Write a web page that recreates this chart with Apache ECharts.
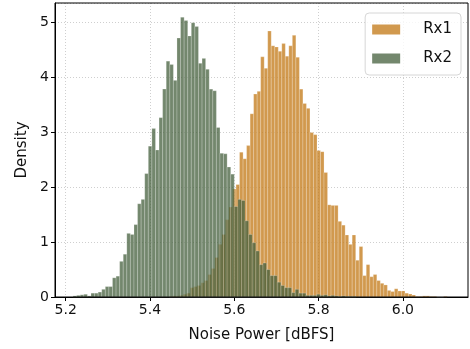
<!DOCTYPE html>
<html>
<head>
<meta charset="utf-8">
<script src="https://cdn.jsdelivr.net/npm/echarts@6/dist/echarts.min.js"></script>
<style>
  html, body { margin: 0; padding: 0; background: #fff; }
  #chart { width: 470px; height: 349px; }
</style>
</head>
<body>
<div id="chart"></div>
<script>
// histogram bins (density)
var rx1Start = 5.4455;
var rx1Width = 0.00835;
var rx1Density = [0.01, 0.02, 0.02, 0.03, 0.05, 0.07, 0.17, 0.19, 0.21, 0.26,
    0.30, 0.41, 0.52, 0.72, 0.96, 1.14, 1.41, 1.64, 1.97, 2.05,
    2.64, 2.52, 2.76, 3.34, 3.70, 3.75, 4.38, 4.17, 4.85, 4.58,
    4.56, 4.48, 4.62, 4.39, 4.58, 4.77, 4.37, 3.79, 3.53, 3.44,
    3.00, 2.96, 2.67, 2.65, 2.27, 1.68, 1.67, 1.67, 1.38, 1.31,
    1.13, 0.96, 1.13, 0.67, 0.92, 0.39, 0.59, 0.37, 0.41, 0.30,
    0.25, 0.22, 0.12, 0.10, 0.15, 0.11, 0.11, 0.07, 0.055, 0.036,
    0.01, 0.01, 0.02, 0.02, 0.01, 0.01, 0, 0, 0.01];

var rx2Start = 5.2175;
var rx2Width = 0.0085;
var rx2Density = [0.02, 0.03, 0.04, 0.05, 0.02, 0.07, 0.07, 0.09, 0.14, 0.19,
    0.19, 0.35, 0.38, 0.65, 0.78, 1.16, 1.14, 1.32, 1.70, 1.78,
    2.25, 2.75, 3.07, 2.68, 3.27, 3.79, 4.30, 4.24, 3.95, 4.72,
    5.10, 5.04, 4.76, 5.00, 4.93, 4.26, 4.35, 4.15, 3.79, 3.76,
    3.09, 2.62, 2.61, 2.37, 2.24, 1.65, 1.78, 1.76, 1.39, 1.14,
    0.99, 0.84, 0.59, 0.62, 0.50, 0.39, 0.39, 0.27, 0.21, 0.17,
    0.17, 0.08, 0.14, 0.07, 0.07, 0.03, 0.03, 0.03, 0.05, 0.03,
    0.04, 0.02, 0.03, 0.02, 0.01, 0.02, 0.01, 0.01, 0.01];

var seriesNames = ['Rx1', 'Rx2'];
var xTicks = [5.2, 5.4, 5.6, 5.8, 6.0];

function toBins(start, width, dens) {
    var out = [];
    for (var i = 0; i < dens.length; i++) {
        var a = start + i * width;
        out.push([a, a + width, dens[i]]);
    }
    return out;
}

function histItem(fill) {
    return function (params, api) {
        var p0 = api.coord([api.value(0), api.value(2)]);
        var p1 = api.coord([api.value(1), 0]);
        return {
            type: 'rect',
            shape: { x: p0[0], y: p0[1], width: p1[0] - p0[0], height: p1[1] - p0[1] },
            style: { fill: fill, stroke: 'rgba(255,255,255,0.35)', lineWidth: 0.6 }
        };
    };
}

var font = 'DejaVu Sans';
var chart = echarts.init(document.getElementById('chart'), null, { renderer: 'canvas' });

var option = {
    animation: false,
    textStyle: { fontFamily: font },
    grid: { left: 55, right: 2, top: 3, bottom: 52, containLabel: false },
    legend: {
        right: 9, top: 13,
        orient: 'vertical',
        data: seriesNames,
        icon: 'rect',
        itemWidth: 28, itemHeight: 10,
        itemGap: 14,
        padding: [9, 9, 9, 7],
        borderColor: '#d6d6d6', borderWidth: 1, borderRadius: 4,
        backgroundColor: 'rgba(255,255,255,0.8)',
        textStyle: { fontSize: 15, color: '#111', fontFamily: font, padding: [0, 0, 0, 18] }
    },
    xAxis: {
        type: 'value',
        min: 5.1746, max: 6.1545,
        name: 'Noise Power [dBFS]', nameLocation: 'middle', nameGap: 31,
        nameTextStyle: { fontSize: 15, color: '#111', fontFamily: font },
        axisLine: { show: true, onZero: false, lineStyle: { color: '#000', width: 1 } },
        axisTick: { show: true, length: 4, customValues: xTicks, lineStyle: { color: '#000' } },
        axisLabel: {
            fontSize: 14, color: '#111', margin: 6, customValues: xTicks,
            formatter: function (v) { return v.toFixed(1); }
        },
        splitLine: { show: true, lineStyle: { color: '#cfcfcf', type: [1, 2], width: 1 } }
    },
    yAxis: {
        type: 'value',
        min: 0, max: 5.36, interval: 1,
        name: 'Density', nameLocation: 'middle', nameGap: 24,
        nameTextStyle: { fontSize: 15, color: '#111', fontFamily: font },
        axisLine: { show: true, lineStyle: { color: '#000', width: 1 } },
        axisTick: { show: true, length: 4, lineStyle: { color: '#000' } },
        axisLabel: { fontSize: 14, color: '#111', margin: 6, showMaxLabel: false },
        splitLine: { show: true, lineStyle: { color: '#cfcfcf', type: [1, 2], width: 1 } }
    },
    series: [
        {
            name: seriesNames[0], type: 'custom',
            renderItem: histItem('rgba(196,124,28,0.78)'),
            itemStyle: { color: 'rgba(196,124,28,0.78)' },
            encode: { x: [0, 1], y: 2 },
            data: toBins(rx1Start, rx1Width, rx1Density),
            z: 2
        },
        {
            name: seriesNames[1], type: 'custom',
            renderItem: histItem('rgba(66,93,58,0.74)'),
            itemStyle: { color: 'rgba(66,93,58,0.74)' },
            encode: { x: [0, 1], y: 2 },
            data: toBins(rx2Start, rx2Width, rx2Density),
            z: 3
        }
    ],
    graphic: [{
        // top and right spines of the frame
        type: 'rect', z: 10, silent: true,
        shape: { x: 55, y: 3, width: 413, height: 294 },
        style: { fill: 'none', stroke: '#000', lineWidth: 1 }
    }]
};
chart.setOption(option);
</script>
</body>
</html>
